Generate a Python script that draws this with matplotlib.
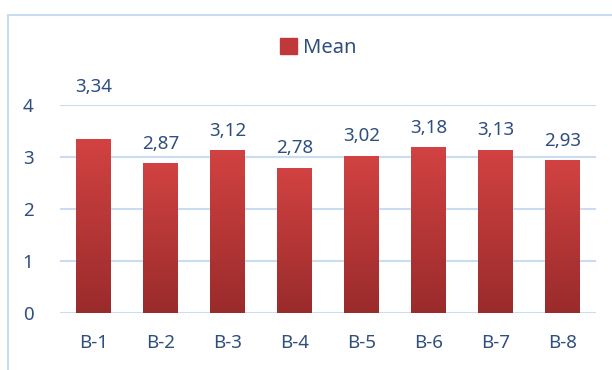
import numpy as np
import matplotlib.pyplot as plt
from matplotlib.patches import Rectangle
from matplotlib.colors import LinearSegmentedColormap

categories = ['B-1', 'B-2', 'B-3', 'B-4', 'B-5', 'B-6', 'B-7', 'B-8']
means = [3.34, 2.87, 3.12, 2.78, 3.02, 3.18, 3.13, 2.93]

text_color = '#2f4f7f'
grid_color = '#c9dcf0'

plt.rcParams['font.family'] = 'Noto Sans'
plt.rcParams['font.size'] = 13.5

fig = plt.figure(figsize=(6.12, 3.70), dpi=100)
ax = fig.add_axes([0.098, 0.154, 0.876, 0.562])

# outer frame of the chart area
fig.patches.append(Rectangle((0.013, -0.1), 1.1, 1.059, transform=fig.transFigure,
                             fill=False, edgecolor=grid_color, linewidth=1.5))

x = np.arange(len(categories))
width = 0.52
bars = ax.bar(x, means, width, color='#c0383a', zorder=2)

# vertical gradient inside each bar
cmap = LinearSegmentedColormap.from_list('redgrad', ['#9a2b2b', '#d24242'])
grad = np.linspace(0, 1, 256).reshape(-1, 1)
for b in bars:
    x0, y0 = b.get_x(), b.get_y()
    ax.imshow(grad, cmap=cmap, aspect='auto', origin='lower',
              extent=(x0, x0 + b.get_width(), y0, y0 + b.get_height()), zorder=3)
    b.set_alpha(0)

for i, (xi, v) in enumerate(zip(x, means)):
    off = 31 if i == 0 else 8
    ax.annotate(f'{v:.2f}'.replace('.', ','), (xi, v), xytext=(0, off),
                textcoords='offset points', ha='center', va='bottom',
                color=text_color, fontsize=13.5)

ax.set_xlim(-0.5, len(categories) - 0.5)
ax.set_ylim(0, 4)
ax.set_yticks([0, 1, 2, 3, 4])
ax.set_xticks(x)
ax.set_xticklabels(categories)
ax.tick_params(length=0, colors=text_color, labelsize=13.5)
ax.tick_params(axis='x', pad=15)
ax.tick_params(axis='y', pad=19)
ax.grid(axis='y', color=grid_color, linewidth=1.5, zorder=0)
for s in ax.spines.values():
    s.set_visible(False)

handle = Rectangle((0, 0), 1, 1, color='#c0383a')
fig.legend([handle], ['Mean'], loc='center', bbox_to_anchor=(0.52, 0.87),
           frameon=False, fontsize=14.5, labelcolor=text_color,
           handlelength=0.8, handleheight=0.8, handletextpad=0.3)

fig.savefig('out.png', dpi=100)
